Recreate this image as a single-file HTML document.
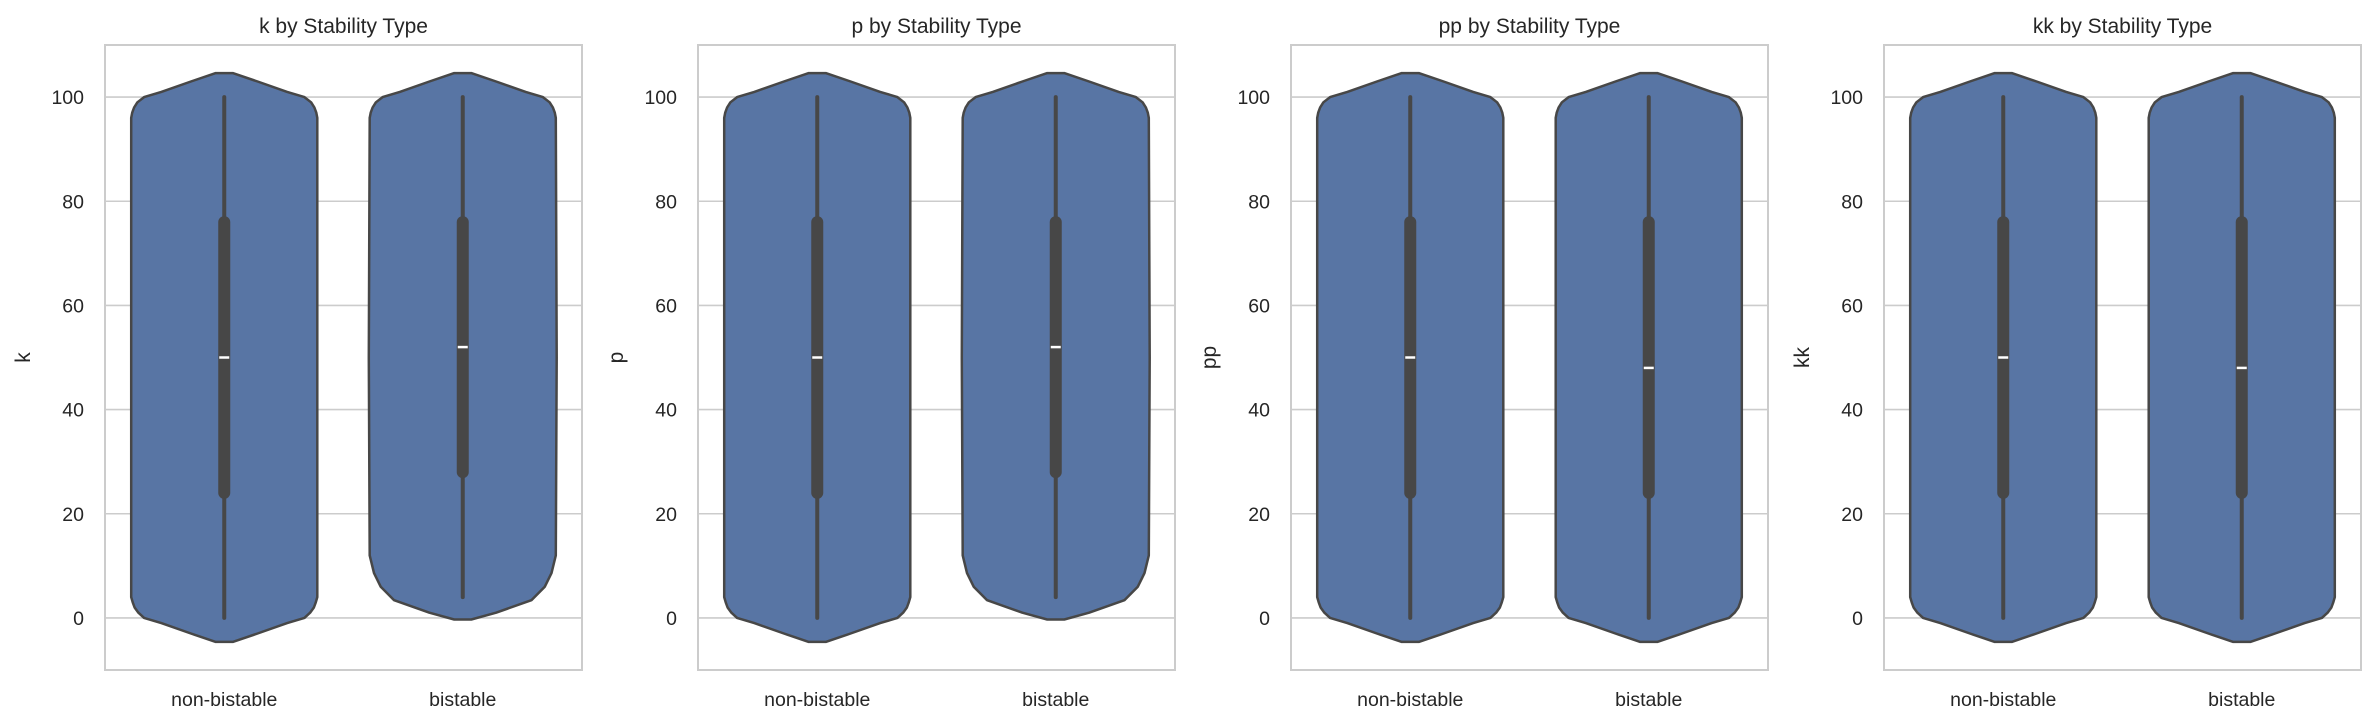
<!DOCTYPE html>
<html><head><meta charset="utf-8">
<style>
html,body{margin:0;padding:0;background:#fff;}
svg{display:block;font-family:"Liberation Sans",sans-serif;}
</style></head>
<body>
<svg id="fig" width="2375" height="724" viewBox="0 0 2375 724" xmlns="http://www.w3.org/2000/svg"></svg>
<script>
const panelNames = ["k","p","pp","kk"];
const categories = ["non-bistable","bistable"];
const yTicks = [0,20,40,60,80,100];
// box stats per panel per category: [whiskerLow, q1, median, q3, whiskerHigh]
const boxStats = [
  [[0,24,50,76,100],[4,28,52,76,100]],
  [[0,24,50,76,100],[4,28,52,76,100]],
  [[0,24,50,76,100],[0,24,48,76,100]],
  [[0,24,50,76,100],[0,24,48,76,100]]
];
// violin density profiles (value, relative half-width)
const fullVals = [-4.6,-3,-1,0,1,2,3,4,50,96,97,98,99,100,101,103,104.6];
const fullDens = [0.09,0.35,0.66,0.84,0.9,0.94,0.96,0.975,0.975,0.975,0.965,0.945,0.91,0.84,0.66,0.35,0.09];
const trimVals = [-0.3,1,3.4,6,8.6,12,50,96,97,98,99,100,101,103,104.6];
const trimDens = [0.09,0.35,0.72,0.86,0.93,0.975,0.985,0.975,0.965,0.945,0.91,0.84,0.66,0.35,0.09];
const violinShape = [
  [[fullVals,fullDens],[trimVals,trimDens]],
  [[fullVals,fullDens],[trimVals,trimDens]],
  [[fullVals,fullDens],[fullVals,fullDens]],
  [[fullVals,fullDens],[fullVals,fullDens]]
];

const NS="http://www.w3.org/2000/svg";
const svg=document.getElementById('fig');
function mk(tag,attrs,parent){const e=document.createElementNS(NS,tag);for(const k in attrs)e.setAttribute(k,attrs[k]);(parent||svg).appendChild(e);return e;}

const axLefts=[105,698,1291,1884], axW=477, axTop=45, axBot=670;
const yMin=-10,yMax=110;
panelNames.forEach((nm,pi)=>{
  const L=axLefts[pi], R=L+axW;
  const g=mk('g',{});
  
  
  const ys=v=>axBot-(v-yMin)/(yMax-yMin)*(axBot-axTop);
  const band=axW/categories.length;
  const xs=i=>L+band*(i+0.5);
  yTicks.forEach(t=>{
    const gl=mk('line',{x1:L,x2:R,y1:ys(t),y2:ys(t),stroke:'#cccccc','stroke-width':1.6},g);
    
    
    const tl=mk('text',{x:L-21,y:ys(t)+7,'text-anchor':'end','font-size':19.5,fill:'#262626'},g);
    tl.textContent=t;
    
    
  });
  categories.forEach((c,ci)=>{
    const [vals,dens]=violinShape[pi][ci];
    const cx=xs(ci), maxHalf=band*0.4;
    let right=vals.map((v,i)=>[cx+dens[i]*maxHalf,ys(v)]);
    let left=vals.map((v,i)=>[cx-dens[i]*maxHalf,ys(v)]).reverse();
    const pts=right.concat(left).map(p=>p[0].toFixed(1)+','+p[1].toFixed(1)).join(' ');
    const vp=mk('polygon',{points:pts,fill:'#5875a4',stroke:'#474747','stroke-width':2.5,'stroke-linejoin':'round'},g);
    
    
    const s=boxStats[pi][ci];
    const wl=mk('line',{x1:cx,x2:cx,y1:ys(s[0]),y2:ys(s[4]),stroke:'#474747','stroke-width':4,'stroke-linecap':'round'},g);
    
    
    const bx=mk('line',{x1:cx,x2:cx,y1:ys(s[1]),y2:ys(s[3]),stroke:'#474747','stroke-width':12,'stroke-linecap':'round'},g);
    
    
    const md=mk('line',{x1:cx-5,x2:cx+5,y1:ys(s[2]),y2:ys(s[2]),stroke:'#ffffff','stroke-width':2.5},g);
    
    
    const xl=mk('text',{x:cx,y:706,'text-anchor':'middle','font-size':19.5,fill:'#262626'},g);
    xl.textContent=c;
    
    
  });
  const fr=mk('rect',{x:L,y:axTop,width:axW,height:axBot-axTop,fill:'none',stroke:'#cccccc','stroke-width':2},g);
  
  
  const ti=mk('text',{x:L+axW/2,y:33,'text-anchor':'middle','font-size':21,fill:'#262626'},g);
  ti.textContent=nm+' by Stability Type';
  
  
  const yl=mk('text',{x:0,y:0,'text-anchor':'middle','font-size':21,fill:'#262626',transform:'translate('+(L-75)+','+((axTop+axBot)/2)+') rotate(-90)'},g);
  yl.textContent=nm;
  
  
});
</script>
</body></html>
